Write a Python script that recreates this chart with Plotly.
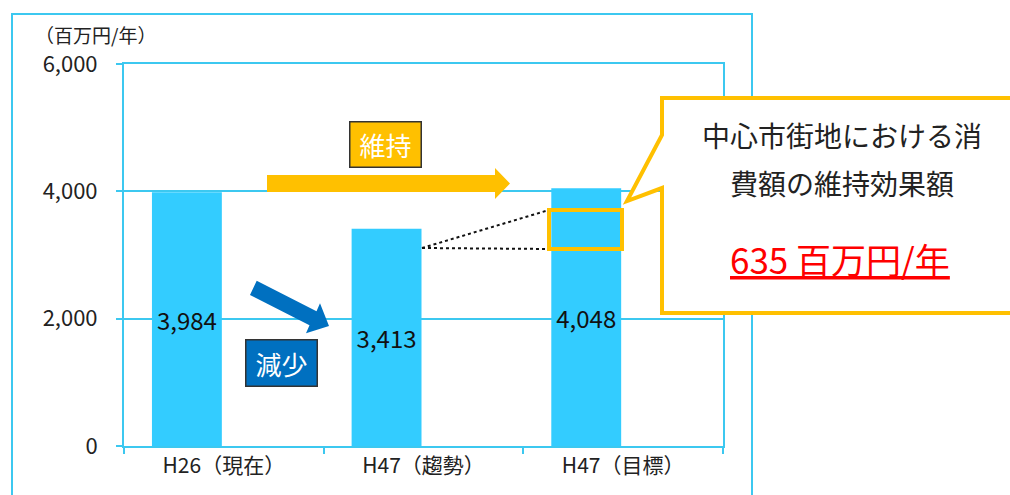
import plotly.graph_objects as go

# ---- data ----
categories = ["H26（現在）", "H47（趨勢）", "H47（目標）"]
values = [3984, 3413, 4048]
y_ticks = [0, 2000, 4000, 6000]
y_title = "（百万円/年）"
callout_lines = ["中心市街地における消", "費額の維持効果額"]
callout_value = "635 百万円/年"
label_keep = "維持"
label_drop = "減少"

# ---- layout constants ----
W, H = 1010, 495
L, R, T, B = 124, 287, 64, 49
PW, PH = W - L - R, H - T - B
LINE = "#3cc8f0"
BAR = "#33ccff"
YEL = "#ffc000"
BLU = "#0070c0"
FONT = "Noto Sans CJK JP"


def px(x):
    return (x - L) / PW


def py(y):
    return (H - B - y) / PH


def path(points):
    s = "M " + " L ".join(f"{px(x):.5f},{py(y):.5f}" for x, y in points) + " Z"
    return s


fig = go.Figure(
    go.Bar(
        x=categories,
        y=values,
        marker=dict(color=BAR, line=dict(width=0)),
        offset=-0.36,
        width=0.35,
        texttemplate="%{y:,}",
        textposition="inside",
        insidetextanchor="middle",
        textangle=0,
        textfont=dict(family=FONT, size=24, color="#111111"),
        hoverinfo="skip",
    )
)

shapes = []
# outer chart border
shapes.append(dict(type="rect", xref="paper", yref="paper",
                   x0=px(12), x1=px(752), y0=py(14), y1=py(505),
                   line=dict(color=LINE, width=2), layer="below"))
# yellow arrow (維持)
shapes.append(dict(type="path", xref="paper", yref="paper",
                   path=path([(267, 175), (495, 175), (495, 168), (510, 183.5),
                              (495, 199), (495, 192), (267, 192)]),
                   fillcolor=YEL, line=dict(width=0)))
# blue arrow (減少)
shapes.append(dict(type="path", xref="paper", yref="paper",
                   path=path([(256.7, 280.7), (316.5, 311.3), (320, 303.3), (329, 326),
                              (306, 333.3), (309.5, 325.3), (250, 295)]),
                   fillcolor=BLU, line=dict(width=0)))
# dotted lines
shapes.append(dict(type="line", xref="paper", yref="paper",
                   x0=px(422), y0=py(248), x1=px(549), y1=py(210),
                   line=dict(color="#111111", width=2, dash="dot")))
shapes.append(dict(type="line", xref="paper", yref="paper",
                   x0=px(422), y0=py(248), x1=px(549), y1=py(249),
                   line=dict(color="#111111", width=2, dash="dot")))
# yellow highlight box
shapes.append(dict(type="rect", xref="paper", yref="paper",
                   x0=px(549), x1=px(622), y0=py(210), y1=py(249),
                   line=dict(color=YEL, width=4)))
# callout
shapes.append(dict(type="path", xref="paper", yref="paper",
                   path=path([(662, 98), (1015, 98), (1015, 313), (662, 313),
                              (662, 188), (627, 201), (662, 135)]),
                   fillcolor="white", line=dict(color=YEL, width=4)))

annotations = [
    dict(x=px(33), y=py(35), xref="paper", yref="paper", xanchor="left", yanchor="middle",
         text=y_title, showarrow=False, font=dict(family=FONT, size=19, color="#222222")),
    dict(x=px(385.5), y=py(144.5), xref="paper", yref="paper", xanchor="center", yanchor="middle",
         text=label_keep, showarrow=False, font=dict(family=FONT, size=26, color="white"),
         bgcolor=YEL, bordercolor="#333333", borderwidth=1.5, width=70, height=44, borderpad=0),
    dict(x=px(281.5), y=py(363), xref="paper", yref="paper", xanchor="center", yanchor="middle",
         text=label_drop, showarrow=False, font=dict(family=FONT, size=26, color="white"),
         bgcolor=BLU, bordercolor="#333333", borderwidth=1.5, width=70, height=45, borderpad=0),
    dict(x=px(842), y=py(135), xref="paper", yref="paper", xanchor="center", yanchor="middle",
         text=callout_lines[0], showarrow=False, font=dict(family=FONT, size=28, color="#222222")),
    dict(x=px(842), y=py(183), xref="paper", yref="paper", xanchor="center", yanchor="middle",
         text=callout_lines[1], showarrow=False, font=dict(family=FONT, size=28, color="#222222")),
    dict(x=px(840), y=py(258), xref="paper", yref="paper", xanchor="center", yanchor="middle",
         text=f"<u>{callout_value}</u>", showarrow=False,
         font=dict(family=FONT, size=35, color="#ff0000")),
]

fig.update_layout(
    width=W, height=H,
    margin=dict(l=L, r=R, t=T, b=B, pad=0),
    paper_bgcolor="white", plot_bgcolor="white",
    showlegend=False,
    bargap=0.3,
    shapes=shapes,
    annotations=annotations,
    font=dict(family=FONT, color="#222222"),
    xaxis=dict(
        type="category", range=[-0.5, 2.5],
        showline=True, linecolor=LINE, linewidth=2, mirror=True,
        ticks="outside", tickson="boundaries", ticklen=6, tickcolor=LINE, tickwidth=2,
        tickfont=dict(family=FONT, size=21, color="#222222"),
        showgrid=False, fixedrange=True,
    ),
    yaxis=dict(
        range=[0, 6000], tickvals=y_ticks, tickformat=",",
        showline=True, linecolor=LINE, linewidth=2, mirror=True,
        ticks="outside", ticklen=6, tickcolor=LINE, tickwidth=2,
        ticklabelstandoff=14,
        tickfont=dict(family=FONT, size=22, color="#222222"),
        showgrid=True, gridcolor=LINE, gridwidth=2, zeroline=False, fixedrange=True,
    ),
)

fig.write_html("out.html", config={"displayModeBar": False})
